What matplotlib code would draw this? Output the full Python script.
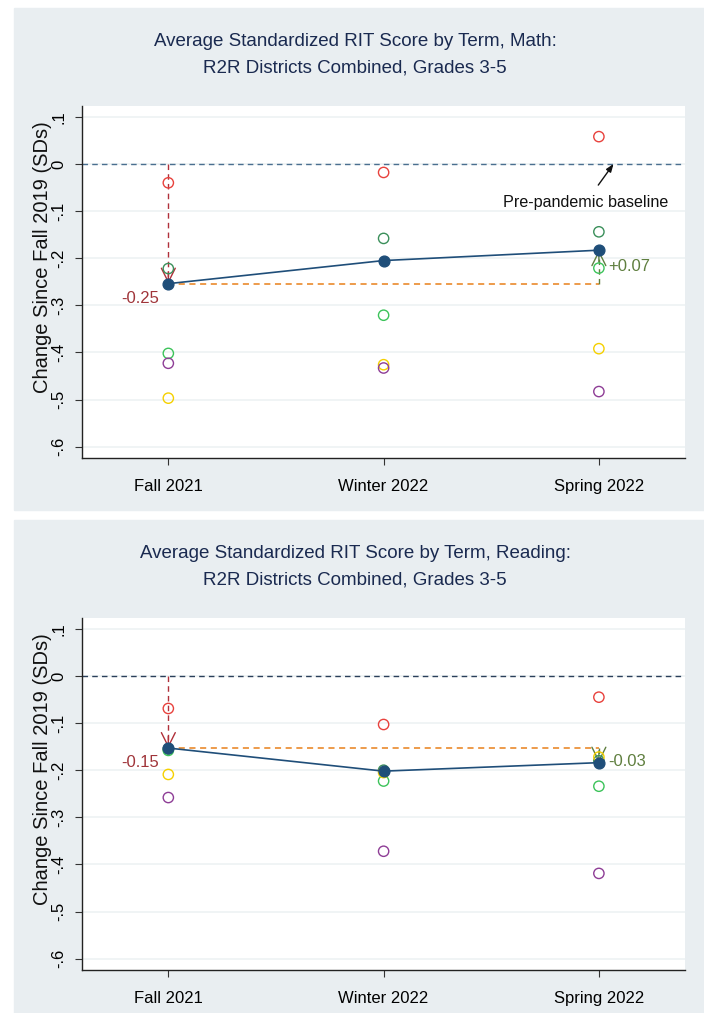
import matplotlib.pyplot as plt
from matplotlib.patches import Rectangle

plt.rcParams['font.family'] = ['Liberation Sans', 'DejaVu Sans']

terms = ['Fall 2021', 'Winter 2022', 'Spring 2022']
x = [1, 2, 3]
yticks = [0.1, 0, -0.1, -0.2, -0.3, -0.4, -0.5, -0.6]
ytick_labels = ['.1', '0', '-.1', '-.2', '-.3', '-.4', '-.5', '-.6']

# math, grades 3-5
math_avg = [-0.254, -0.205, -0.183]
math_d1 = [-0.040, -0.018, 0.058]     # red
math_d2 = [-0.222, -0.158, -0.144]    # dark green
math_d3 = [-0.402, -0.321, -0.221]    # light green
math_d4 = [-0.497, -0.426, -0.392]    # yellow
math_d5 = [-0.423, -0.433, -0.483]    # purple

# reading, grades 3-5
read_avg = [-0.153, -0.202, -0.184]
read_d1 = [-0.069, -0.103, -0.045]
read_d2 = [-0.155, -0.200, -0.180]
read_d3 = [-0.158, -0.223, -0.234]
read_d4 = [-0.209, -0.205, -0.172]
read_d5 = [-0.258, -0.372, -0.419]

district_colors = ['#e8413c', '#3a8f5a', '#3cc35a', '#f5d000', '#8e3d96']

W, H = 704, 1013
fig = plt.figure(figsize=(W / 100, H / 100), dpi=100)
fig.patch.set_facecolor('white')

bg = '#e9eef1'
fig.patches.append(Rectangle((14 / W, 1 - 510 / H), 1 - 14 / W, 502 / H,
                             transform=fig.transFigure, color=bg, zorder=-10))
fig.patches.append(Rectangle((14 / W, 0), 1 - 14 / W, 1 - 520 / H,
                             transform=fig.transFigure, color=bg, zorder=-10))


def dashed_arrow(ax, x0, y0, y1, color):
    # dashed shaft + solid open V head at the end
    ax.plot([x0, x0], [y0, y1], color=color, lw=1, ls=(0, (4, 3)), zorder=3)
    step = -0.025 if y1 < y0 else 0.025
    ax.annotate('', xy=(x0, y1), xytext=(x0, y1 - step),
                arrowprops=dict(arrowstyle='->,head_length=1.0,head_width=0.5',
                                color=color, lw=1, shrinkA=0, shrinkB=0), zorder=3)


def panel(bottom_px, subject, avg, districts, base_color, show_baseline_note):
    ax = fig.add_axes([82 / W, 1 - bottom_px / H, 603 / W, 352 / H])
    ax.set_facecolor('white')
    ax.set_xlim(0.599, 3.40)
    ax.set_ylim(-0.624, 0.123)
    ax.set_yticks(yticks)
    ax.set_yticklabels(ytick_labels, rotation=90, va='center', fontsize=12)
    ax.set_xticks(x)
    ax.set_xticklabels(terms, fontsize=12)
    ax.tick_params(axis='both', direction='out', length=5, color='#333333', pad=6)
    ax.tick_params(axis='x', pad=10)
    for s in ['top', 'right']:
        ax.spines[s].set_visible(False)
    for s in ['left', 'bottom']:
        ax.spines[s].set_color('#222222')
        ax.spines[s].set_linewidth(1)
    ax.grid(axis='y', color='#eef2f4', lw=1.2)
    ax.set_axisbelow(True)
    ax.text(-0.066, 0.571, 'Change Since Fall 2019 (SDs)', transform=ax.transAxes,
            rotation=90, fontsize=14.5, ha='center', va='center', color='#111111')

    ax.axhline(0, color=base_color, lw=1, ls=(0, (4, 3)), zorder=2)

    for vals, c in zip(districts, district_colors):
        ax.scatter(x, vals, s=55, facecolors='none', edgecolors=c, lw=1, zorder=4)

    ax.plot(x, avg, color='#1f4e79', lw=1.2, zorder=5)
    ax.scatter(x, avg, s=60, color='#1f4e79', zorder=6)

    # drop from baseline to first term, then change to last term
    dashed_arrow(ax, x[0], 0, avg[0], '#b0303a')
    ax.plot([x[0], x[2]], [avg[0], avg[0]], color='#e8801a', lw=1.1,
            ls=(0, (4, 3)), zorder=3)
    dashed_arrow(ax, x[2], avg[0], avg[2], '#5f7f3f')

    ax.text(x[0] - 0.13, avg[0] - 0.031, f'{avg[0]:.2f}', color='#a0353a',
            fontsize=12, ha='center', va='center')
    diff = avg[2] - avg[0]
    ax.text(x[2] + 0.045, avg[2] + (-0.034 if diff > 0 else 0.002),
            f'{diff:+.2f}', color='#5f7f3f', fontsize=12, ha='left', va='center')

    if show_baseline_note:
        ax.annotate('Pre-pandemic baseline', xy=(3.068, 0), xytext=(2.94, -0.081),
                    fontsize=11.6, ha='center', va='center', color='#111111',
                    arrowprops=dict(arrowstyle='-|>,head_length=0.4,head_width=0.15',
                                    color='#111111', lw=1, shrinkA=6, shrinkB=0))

    top_px = bottom_px - 352
    title = f'Average Standardized RIT Score by Term, {subject}:\nR2R Districts Combined, Grades 3-5'
    fig.text(355 / W, 1 - (top_px - 51) / H, title, ha='center', va='center',
             fontsize=13.5, color='#1a2a50', linespacing=1.75)
    return ax


panel(458, 'Math', math_avg, [math_d1, math_d2, math_d3, math_d4, math_d5],
      '#4a6f8f', True)
panel(970, 'Reading', read_avg, [read_d1, read_d2, read_d3, read_d4, read_d5],
      '#2a3f5a', False)

fig.savefig('out.png', dpi=100)
